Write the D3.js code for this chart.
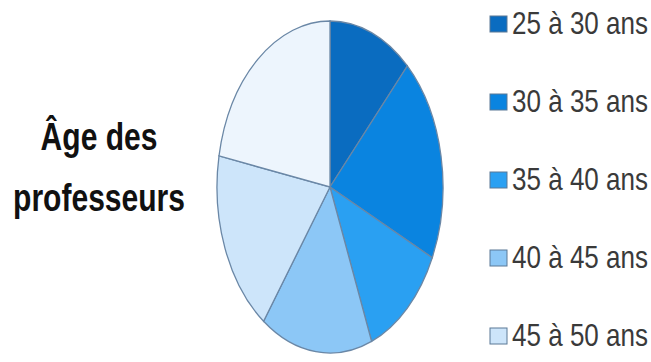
<!DOCTYPE html>
<html>
<head>
<meta charset="utf-8">
<script src="https://cdn.jsdelivr.net/npm/d3@7"></script>
<style>
  body { margin: 0; background: #fff; }
  svg { display: block; }
</style>
</head>
<body>
<svg id="chart"></svg>
<script>
let svgWidth = 651, svgHeight = 362

// data
let categories = ['25 à 30 ans', '30 à 35 ans', '35 à 40 ans', '40 à 45 ans', '45 à 50 ans', '50 à 55 ans']
let values = [12, 20, 12, 16, 18, 22]
let colors = ['#0a6cc0', '#0a84e0', '#2aa0f2', '#8cc7f6', '#cde5fa', '#edf5fd']
let titleLines = ['Âge des', 'professeurs']

let svg = d3.select('#chart').attr('width', svgWidth).attr('height', svgHeight)

// pie is drawn as a circle then squeezed horizontally into an ellipse
let cx = 330, cy = 187, rx = 113, ry = 166
let pie = d3.pie().sort(null).value(d => d)
let arc = d3.arc().innerRadius(0).outerRadius(ry)
let color = d3.scaleOrdinal().domain(categories).range(colors)

let g = svg.append('g')
  .attr('transform', `translate(${cx},${cy}) scale(${rx / ry},1)`)

g.selectAll('path').data(pie(values))
  .enter().append('path')
  .attr('d', arc)
  .attr('fill', (d, i) => color(categories[i]))
  .attr('stroke', '#6a87a6')
  .attr('stroke-width', 1.3)
  .attr('vector-effect', 'non-scaling-stroke')

// title, narrowed like the original condensed font
let squeeze = 0.79
let titleG = svg.append('g').attr('transform', `translate(99,0) scale(${squeeze},1)`)
titleG.selectAll('text').data(titleLines)
  .enter().append('text')
  .attr('x', 0)
  .attr('y', (d, i) => i == 0 ? 150 : 211)
  .attr('text-anchor', 'middle')
  .style('font-family', 'Liberation Sans, Arial, sans-serif')
  .style('font-weight', 'bold')
  .style('font-size', '38px')
  .style('fill', '#111')
  .text(d => d)

// legend (the last entry falls below the bottom edge, as in the original)
let legendY = d3.scalePoint().domain(categories).range([24, 24 + 78 * (categories.length - 1)])
let legend = svg.selectAll('g.legend').data(categories.filter(c => legendY(c) < svgHeight))
  .enter().append('g')
  .attr('class', 'legend')
  .attr('transform', d => `translate(490,${legendY(d)})`)

legend.append('rect')
  .attr('x', 0).attr('y', -8)
  .attr('width', 17).attr('height', 16)
  .attr('fill', d => color(d))
  .attr('stroke', '#5a7896')
  .attr('stroke-width', 1)

legend.append('text')
  .attr('transform', `translate(22,10) scale(0.84,1)`)
  .style('font-family', 'Liberation Sans, Arial, sans-serif')
  .style('font-size', '31px')
  .style('fill', '#3a3a3a')
  .text(d => d)
</script>
</body>
</html>
